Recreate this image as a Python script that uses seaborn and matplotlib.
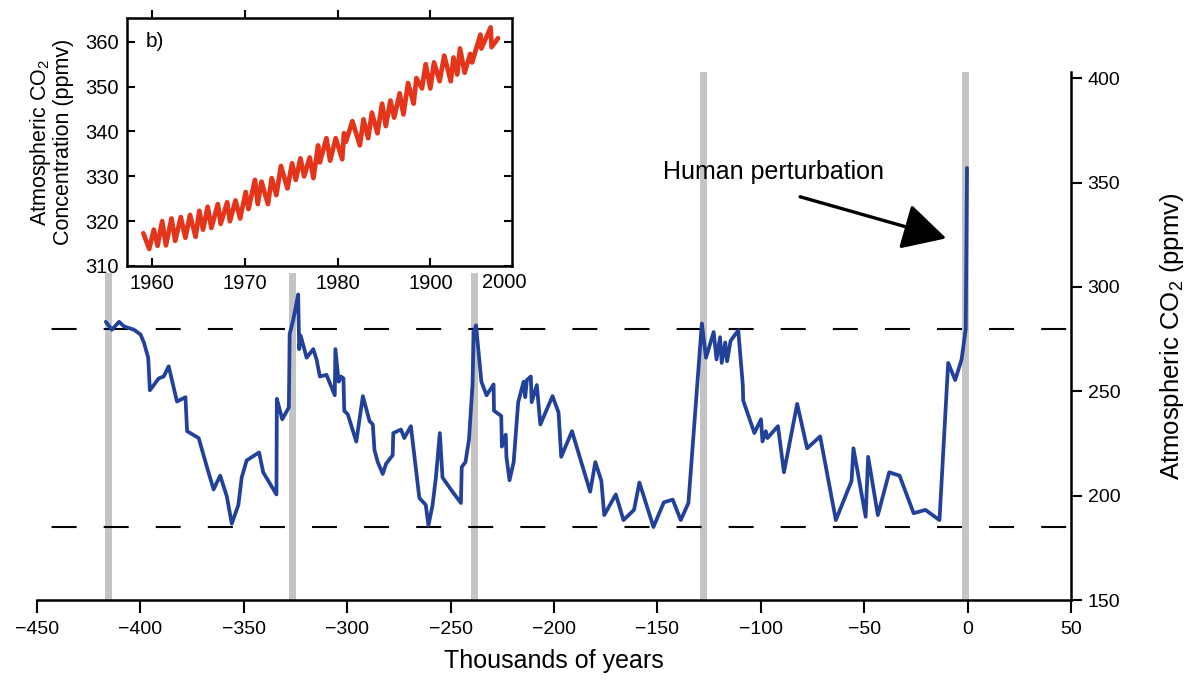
import numpy as np
import pandas as pd
import seaborn as sns
import matplotlib.pyplot as plt

# Vostok ice core CO2 (thousands of years, ppmv)
kyr = [-416.7, -413.8, -410.3, -407.9, -403.1, -399.9, -398.3, -396.2, -395.4, -391.1,
       -388.7, -386.3, -382.3, -378.2, -377.4, -371.8, -367.8, -364.6, -361.4, -358.2,
       -355.8, -352.6, -351.0, -348.6, -342.6, -340.6, -334.2, -334.0, -331.4, -328.2,
       -327.8, -326.1, -323.7, -323.2, -322.5, -319.6, -316.4, -314.8, -313.2, -310.0,
       -306.0, -305.7, -304.1, -303.0, -301.8, -301.4, -299.7, -295.6, -292.4, -289.2,
       -287.6, -286.8, -285.2, -282.8, -281.2, -278.0, -277.7, -274.0, -272.4, -269.2,
       -265.1, -262.0, -260.7, -258.7, -257.1, -255.2, -253.9, -249.3, -245.0, -244.6,
       -242.8, -241.1, -239.4, -238.8, -237.7, -235.1, -232.6, -229.2, -229.0, -225.5,
       -225.2, -223.3, -223.0, -221.5, -219.5, -217.3, -214.7, -213.9, -213.1, -211.2,
       -210.8, -208.3, -206.6, -200.7, -197.8, -196.5, -191.3, -182.5, -180.0, -177.1,
       -175.7, -170.1, -166.4, -161.3, -158.7, -151.9, -146.9, -142.6, -138.7, -135.0,
       -128.5, -126.5, -122.8, -121.4, -119.7, -118.9, -117.2, -116.3, -114.6, -110.9,
       -108.7, -108.5, -103.1, -99.9, -99.2, -97.6, -96.8, -91.7, -88.8, -82.4,
       -77.6, -71.3, -63.7, -56.1, -55.2, -49.3, -48.1, -43.4, -37.9, -32.9,
       -26.1, -20.4, -13.6, -9.4, -6.0, -2.9, -0.9, -0.3]
co2 = [283.3, 279.5, 283.3, 281.1, 279.5, 277.2, 273.4, 266.1, 250.5, 256.2,
       257.1, 262.0, 245.1, 247.2, 230.9, 227.6, 213.7, 203.0, 209.6, 199.7,
       186.6, 195.6, 208.7, 216.9, 220.7, 211.2, 200.6, 246.4, 236.6, 242.3,
       277.5, 284.1, 296.4, 270.2, 276.7, 266.1, 270.2, 265.3, 257.1, 257.9,
       248.1, 270.2, 254.6, 257.1, 256.2, 240.6, 239.0, 225.9, 247.7, 235.8,
       234.1, 221.8, 216.1, 210.4, 215.3, 219.4, 230.0, 231.7, 227.6, 233.3,
       198.9, 195.6, 185.8, 195.6, 208.7, 230.0, 208.7, 202.2, 196.5, 213.7,
       216.1, 226.8, 253.0, 278.4, 281.6, 254.6, 248.1, 253.3, 240.7, 238.2,
       223.5, 229.2, 218.6, 207.4, 216.1, 244.8, 254.6, 247.2, 255.4, 257.1,
       244.8, 253.0, 234.1, 247.7, 239.9, 218.6, 230.9, 201.9, 216.1, 207.1,
       190.7, 200.6, 188.3, 193.2, 206.3, 185.0, 196.8, 198.1, 188.3, 196.5,
       282.5, 266.1, 278.4, 265.3, 275.9, 263.6, 273.4, 264.4, 274.2, 279.2,
       253.0, 245.6, 230.0, 236.6, 226.0, 230.9, 227.6, 233.3, 211.2, 244.0,
       222.7, 228.4, 188.3, 207.1, 222.7, 189.9, 218.6, 190.7, 211.2, 209.6,
       191.6, 193.2, 188.3, 263.6, 255.4, 265.3, 280.0, 357.0]

# Mauna Loa record for the inset (year, ppmv)
ml_year = [1959.07, 1959.7, 1960.2, 1960.6, 1961.1, 1961.5, 1962.1, 1962.5, 1963.1, 1963.6,
           1964.1, 1964.7, 1965.1, 1965.5, 1966.0, 1966.4, 1967.1, 1967.4, 1968.1, 1968.4,
           1969.0, 1969.5, 1970.1, 1970.4, 1971.1, 1971.4, 1971.8, 1972.5, 1972.9, 1973.4,
           1973.9, 1974.6, 1975.1, 1975.5, 1976.0, 1976.4, 1977.0, 1977.4, 1977.9, 1978.1,
           1978.8, 1979.2, 1979.8, 1980.5, 1980.7, 1980.9, 1981.6, 1982.4, 1982.8, 1983.3,
           1983.7, 1984.3, 1984.8, 1985.2, 1985.7, 1986.1, 1986.7, 1987.1, 1987.6, 1988.2,
           1988.5, 1989.1, 1989.5, 1990.0, 1990.4, 1991.0, 1991.5, 1992.2, 1992.5, 1992.9,
           1993.2, 1993.7, 1994.3, 1994.5, 1995.4, 1995.5, 1996.5, 1996.6, 1997.3]
ml_co2 = [317.3, 313.8, 318.1, 314.5, 320.0, 314.6, 320.6, 315.6, 320.9, 316.3,
          321.4, 316.5, 322.3, 318.1, 323.2, 318.5, 323.8, 319.4, 324.2, 320.0,
          324.6, 320.6, 326.5, 322.7, 329.2, 323.8, 328.8, 323.8, 329.6, 325.8,
          332.3, 327.3, 332.9, 329.2, 334.0, 330.0, 334.2, 329.6, 336.9, 333.1,
          338.5, 333.5, 338.5, 333.8, 339.6, 337.7, 342.3, 336.9, 342.7, 338.5,
          344.2, 339.6, 346.2, 341.2, 346.9, 343.1, 348.5, 343.8, 350.8, 346.2,
          351.9, 349.6, 355.0, 349.6, 355.4, 351.2, 356.9, 351.2, 356.5, 352.7,
          358.5, 353.1, 357.3, 355.4, 361.6, 358.5, 363.2, 358.8, 360.8]

interglacials = [-415.5, -326.5, -238.3, -127.5, -1.0]
glacial_levels = [280, 185]
xticks_main = [-450, -400, -350, -300, -250, -200, -150, -100, -50, 0, 50]
yticks_main = [150, 200, 250, 300, 350, 400]
inset_xticks = [1960, 1970, 1980, 1990]
inset_xlabels = ["1960", "1970", "1980", "1900"]
inset_yticks = [310, 320, 330, 340, 350, 360]

sns.set_theme(style="white")
plt.rcParams['font.family'] = ['Liberation Sans', 'DejaVu Sans']
plt.rcParams['mathtext.fontset'] = 'custom'
plt.rcParams['mathtext.rm'] = 'Liberation Sans'
plt.rcParams['mathtext.it'] = 'Liberation Sans:italic'
for k in ['text.color', 'axes.labelcolor', 'xtick.color', 'ytick.color']:
    plt.rcParams[k] = 'black'

vostok = pd.DataFrame({"kyr": kyr, "co2": co2})
mauna = pd.DataFrame({"year": ml_year, "co2": ml_co2})

fig = plt.figure(figsize=(11.92, 6.85), dpi=100)
ax = fig.add_axes([0.031, 0.124, 0.8675, 0.771])

# grey bands; the first three stop under the inset
for i, x in enumerate(interglacials):
    top = 0.62 if i < 3 else 1.0
    ax.axvspan(x - 1.7, x + 1.7, ymax=top, color="#c4c4c4", lw=0, zorder=0.5)
for lev in glacial_levels:
    ax.axhline(lev, color="black", lw=1.5, ls=(18, (12, 13)), zorder=1)

sns.lineplot(data=vostok, x="kyr", y="co2", ax=ax, color="#22419a", lw=2.7,
             estimator=None, sort=False, zorder=3)

ax.set_xlim(-450, 50)
ax.set_ylim(150, 403)
ax.set_xticks(xticks_main)
ax.set_yticks(yticks_main)
ax.yaxis.tick_right()
ax.yaxis.set_label_position("right")
for s in ["left", "top"]:
    ax.spines[s].set_visible(False)
for s in ["right", "bottom"]:
    ax.spines[s].set_linewidth(1.8)
    ax.spines[s].set_color("black")
ax.tick_params(axis="x", direction="out", length=9, width=1.5, labelsize=14,
               pad=6, bottom=True)
ax.tick_params(axis="y", direction="out", length=8, width=1.5, labelsize=14,
               pad=4, right=True, left=False)
ax.set_xlabel("Thousands of years", fontsize=18, labelpad=8)
ax.set_ylabel("Atmospheric CO$_2$ (ppmv)", fontsize=18.5, labelpad=27)

ax.text(-147.5, 355, "Human perturbation", fontsize=18, va="center", ha="left")
ax.annotate("", xy=(-10.3, 323.3), xytext=(-81, 343.2),
            arrowprops=dict(arrowstyle="-|>,head_length=1.35,head_width=0.72",
                            color="black", lw=2.4, mutation_scale=20,
                            shrinkA=0, shrinkB=0))

# inset b)
axi = fig.add_axes([0.1065, 0.6117, 0.323, 0.362])
sns.lineplot(data=mauna, x="year", y="co2", ax=axi, color="#e4351a", lw=3.4,
             estimator=None, sort=False)
axi.set_xlim(1957.3, 1998.8)
axi.set_ylim(310, 365.3)
axi.set_xticks(inset_xticks)
axi.set_xticklabels(inset_xlabels)
axi.set_yticks(inset_yticks)
for s in axi.spines.values():
    s.set_linewidth(1.8)
    s.set_color("black")
    s.set_visible(True)
axi.tick_params(axis="x", which="both", bottom=True, top=True, direction="in",
                length=6, width=1.5, labelsize=14.5, pad=6)
axi.tick_params(axis="y", left=True, right=True, direction="in",
                length=6, width=1.5, labelsize=14.5, pad=6)
for t in axi.xaxis.get_major_ticks():
    t.tick2line.set_marker(2)
axi.text(1998.0, -0.027, "2000", transform=axi.get_xaxis_transform(),
         ha="center", va="top", fontsize=14.5)
axi.text(1959.3, 360, "b)", fontsize=15, va="center", ha="left")
axi.set_xlabel("")
axi.set_ylabel("Atmospheric CO$_2$\nConcentration (ppmv)", fontsize=15.5,
               labelpad=8, linespacing=1.0)

fig.savefig("out.png", dpi=100)
